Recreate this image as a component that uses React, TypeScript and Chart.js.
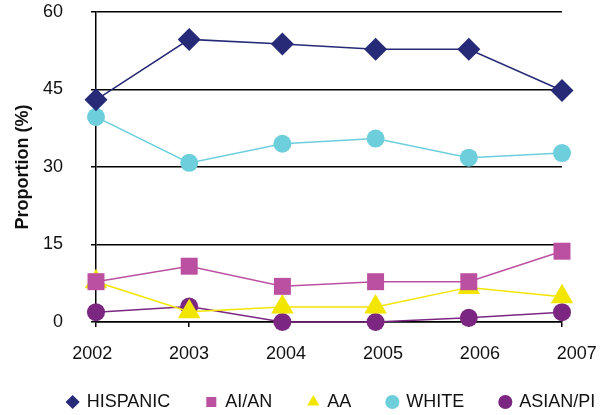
import React, { useEffect, useRef } from "react";
import { Chart, registerables } from "chart.js";

Chart.register(...registerables);

const years = ["2002", "2003", "2004", "2005", "2006", "2007"];
const hispanic = [43, 54.7, 53.8, 52.8, 52.8, 44.8];
const aian = [7.8, 10.8, 6.9, 7.8, 7.8, 13.7];
const aa = [7.8, 2.0, 2.9, 2.9, 6.7, 4.9];
const white = [39.7, 30.8, 34.5, 35.5, 31.8, 32.7];
const asianpi = [1.9, 3.0, 0, 0, 0.8, 1.9];
const yMin = 0;
const yMax = 60;
const yStep = 15;

// the year labels in the reference sit on a slightly wider spacing than the points
const labelStart = -0.041;
const labelStep = 1.04;

const FONT = "'Liberation Sans', Arial, sans-serif";
const TEXT = "#111";

export default function App() {
  const ref = useRef<HTMLCanvasElement | null>(null);

  useEffect(() => {
    document.body.style.margin = "0";
    const canvas = ref.current;
    if (!canvas) return;

    const mk = (label: string, data: number[], color: string, style: string, r: number) => ({
      label,
      data,
      xAxisID: "x",
      yAxisID: "y",
      borderColor: color,
      backgroundColor: color,
      borderWidth: 1.5,
      pointStyle: style,
      pointRadius: r,
      pointHoverRadius: r,
      pointBorderWidth: 0,
      pointBackgroundColor: color,
      pointBorderColor: color,
      fill: false,
      tension: 0,
      clip: false as any,
    });

    const legendShift = {
      id: "legendShift",
      afterLayout(chart: any) {
        const lg = chart.legend;
        if (!lg) return;
        lg.left += 24;
        lg.right += 24;
        lg.top -= 8;
        lg.bottom -= 8;
      },
    };

    const chart = new Chart(canvas, {
      type: "line",
      data: {
        labels: years,
        datasets: [
          mk("HISPANIC", hispanic, "#262a77", "rectRot", 11.5),
          mk("AI/AN", aian, "#bc50a0", "rect", 12),
          mk("AA", aa, "#f2e500", "triangle", 13),
          mk("WHITE", white, "#6dcedc", "circle", 9),
          mk("ASIAN/PI", asianpi, "#7b2781", "circle", 9),
        ] as any,
      },
      options: {
        animation: false,
        responsive: false,
        maintainAspectRatio: false,
        layout: { autoPadding: false, padding: { top: 12, left: 0, right: 0, bottom: -14 } },
        plugins: {
          tooltip: { enabled: false },
          legend: {
            position: "bottom",
            labels: {
              usePointStyle: true,
              boxWidth: 10,
              boxHeight: 10,
              padding: 36,
              color: TEXT,
              font: { family: FONT, size: 18 },
            },
          },
        },
        scales: {
          x: {
            type: "category",
            position: "bottom",
            offset: false,
            grid: {
              display: true,
              drawOnChartArea: false,
              drawTicks: true,
              tickLength: 5,
              color: "#000",
              lineWidth: 1.5,
            },
            border: { display: true, color: "#000", width: 1.5 },
            ticks: { display: false },
            afterFit(scale: any) {
              scale.height = 5;
              scale.paddingRight = 53;
              scale.paddingLeft = 0;
            },
          },
          x2: {
            type: "linear",
            position: "bottom",
            min: 0,
            max: years.length - 1,
            grid: { display: false, drawTicks: false },
            border: { display: false },
            afterBuildTicks(scale: any) {
              scale.ticks = years.map((_, i) => ({ value: labelStart + labelStep * i }));
            },
            ticks: {
              autoSkip: false,
              maxRotation: 0,
              color: TEXT,
              font: { family: FONT, size: 18 },
              padding: 16,
              callback: (_v: any, i: number) => years[i],
            },
            afterFit(scale: any) {
              scale.height = 38;
              scale.paddingRight = 53;
              scale.paddingLeft = 0;
            },
          },
          y: {
            min: yMin,
            max: yMax,
            grid: {
              color: "#000",
              lineWidth: 1.5,
              drawTicks: true,
              tickLength: 5,
            },
            border: { display: true, color: "#000", width: 1.5 },
            ticks: {
              stepSize: yStep,
              color: TEXT,
              font: { family: FONT, size: 18 },
              padding: 28,
            },
            title: {
              display: true,
              text: "Proportion (%)",
              color: TEXT,
              font: { family: FONT, size: 18, weight: "bold" },
              padding: { top: 12, bottom: 0 },
            },
            afterFit(scale: any) {
              scale.width = 96;
              scale.paddingTop = 0;
              scale.paddingBottom = 0;
            },
          },
        },
      } as any,
      plugins: [legendShift],
    });

    return () => chart.destroy();
  }, []);

  return (
    <div style={{ width: 615, height: 415 }}>
      <canvas ref={ref} width={615} height={415} style={{ width: 615, height: 415, display: "block" }} />
    </div>
  );
}
